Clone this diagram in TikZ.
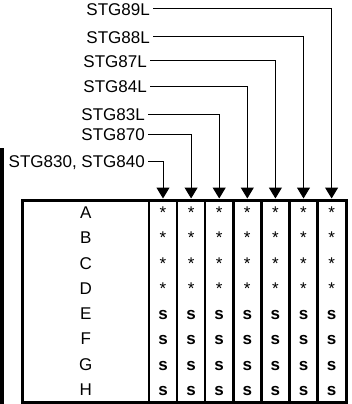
\documentclass[tikz,border=0pt]{standalone}
\usepackage{fontspec}
\setmainfont{Liberation Sans}
\usetikzlibrary{arrows.meta,calc}

\tikzset{
  lbl/.style={anchor=east,inner xsep=3pt,inner ysep=0pt,text height=12.2pt,text depth=0pt,font=\fontsize{17}{17}\selectfont},
  cell/.style={anchor=base,inner sep=0pt,font=\fontsize{17}{17}\selectfont},
  feed/.style={line width=1pt,-{Triangle[width=13pt,length=11pt]}},
}

\begin{document}
\begin{tikzpicture}[x=1pt,y=-1pt]
    \useasboundingbox (0,0) rectangle (352,404);
    \draw[line width=3.5pt] (1.75,148) -- (1.75,404);
    \draw[line width=3pt] (22.5,200) rectangle (346,402.5);
    \foreach \k in {0,...,6}
      \draw[line width=2.5pt] ({149+28.1*\k},200) -- ({149+28.1*\k},402.5);
    \foreach \k in {1,...,7}
      \coordinate (c\k) at ({163+28.1*(\k-1)},198.5);
    \foreach \txt/\y/\x [count=\k] in {{STG830, STG840}/161/148,STG870/134/148,STG83L/114/148,STG84L/86/150,STG87L/61/150,STG88L/37/153,STG89L/9/153} {
      \node[lbl] (l\k) at (\x,\y) {\txt};
      \draw[feed] (l\k.east) -| (c\k);
    }
    \foreach \row [count=\r from 0] in {A,...,H} {
      \node[cell] (row\r) at (85.75,{218.4+25.3*\r}) {\row};
      \foreach \k in {1,...,7}
        \node[cell] (v\r-\k) at ({163+28.1*(\k-1)},{218.4+25.3*\r}) {\ifnum\r<4 *\else\textbf{s}\fi};
    }
  \end{tikzpicture}
\end{document}
